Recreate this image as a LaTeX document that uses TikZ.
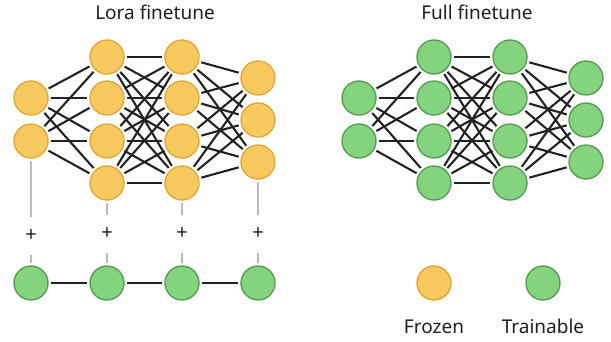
\documentclass[tikz,border=0pt]{standalone}
\usepackage{fontspec}
\setmainfont{Noto Sans}
\begin{document}
\begin{tikzpicture}[x=1pt,y=-1pt,
  neuron/.style={circle,line width=1.4pt,minimum size=34pt,inner sep=0pt,outer sep=3pt},
  frozen/.style={neuron,draw=frozenline,fill=frozenfill},
  train/.style={neuron,draw=trainline,fill=trainfill},
  wire/.style={draw=wirecol,line width=2.1pt},
  grayline/.style={draw=graycol,line width=1.6pt},
  plusnode/.style={inner sep=0pt,minimum height=38pt,font=\bfseries\fontsize{20}{20}\selectfont,text=textcol},
  title/.style={anchor=base,font=\fontsize{19}{19}\selectfont,text=textcol},
  legend/.style={anchor=base,font=\fontsize{19}{19}\selectfont,text=textcol}]
\definecolor{frozenfill}{HTML}{F7C95E}
\definecolor{frozenline}{HTML}{E2A83C}
\definecolor{trainfill}{HTML}{83D37F}
\definecolor{trainline}{HTML}{5A9E56}
\definecolor{wirecol}{HTML}{222222}
\definecolor{graycol}{HTML}{BDBDBD}
\definecolor{textcol}{HTML}{1E1E1E}
\useasboundingbox (0,0) rectangle (611,341);

% titles
\node[title] (t1) at (155,19) {Lora finetune};
\node[title] (t2) at (477,19) {Full finetune};

% Left network (frozen)
\foreach \y [count=\i] in {98,141} \node[frozen] (La\i) at (31,\y) {};
\foreach \y [count=\i] in {57,98,141,183} \node[frozen] (Lb\i) at (107,\y) {};
\foreach \y [count=\i] in {57,98,141,183} \node[frozen] (Lc\i) at (182,\y) {};
\foreach \y [count=\i] in {78,120,162} \node[frozen] (Ld\i) at (258,\y) {};
\foreach \i in {1,2} \foreach \j in {1,...,4} \draw[wire] (La\i) -- (Lb\j);
\foreach \i in {1,...,4} \foreach \j in {1,...,4} \draw[wire] (Lb\i) -- (Lc\j);
\foreach \i in {1,...,4} \foreach \j in {1,...,3} \draw[wire] (Lc\i) -- (Ld\j);

% Right network (trainable)
\foreach \y [count=\i] in {98,141} \node[train] (Ra\i) at (359,\y) {};
\foreach \y [count=\i] in {57,98,141,183} \node[train] (Rb\i) at (434,\y) {};
\foreach \y [count=\i] in {57,98,141,183} \node[train] (Rc\i) at (510,\y) {};
\foreach \y [count=\i] in {78,120,162} \node[train] (Rd\i) at (586,\y) {};
\foreach \i in {1,2} \foreach \j in {1,...,4} \draw[wire] (Ra\i) -- (Rb\j);
\foreach \i in {1,...,4} \foreach \j in {1,...,4} \draw[wire] (Rb\i) -- (Rc\j);
\foreach \i in {1,...,4} \foreach \j in {1,...,3} \draw[wire] (Rc\i) -- (Rd\j);

% LoRA adapters
\node[train] (A1) at (31,283) {};
\node[train] (A2) at (107,283) {};
\node[train] (A3) at (182,283) {};
\node[train] (A4) at (258,283) {};
\node[plusnode] (P1) at (31,236) {+};
\node[plusnode] (P2) at (107,234) {+};
\node[plusnode] (P3) at (182,234) {+};
\node[plusnode] (P4) at (258,234) {+};
\draw[grayline] (La2.south) -- (P1.north);
\draw[grayline] (Lb4.south) -- (P2.north);
\draw[grayline] (Lc4.south) -- (P3.north);
\draw[grayline] (Ld3.south) -- (P4.north);
\draw[grayline] (P1.south) -- (A1.north);
\draw[grayline] (P2.south) -- (A2.north);
\draw[grayline] (P3.south) -- (A3.north);
\draw[grayline] (P4.south) -- (A4.north);
\draw[wire] (A1) -- (A2);
\draw[wire] (A2) -- (A3);
\draw[wire] (A3) -- (A4);

% legend
\node[frozen] (F) at (434,283) {};
\node[train] (T) at (543,283) {};
\node[legend] (Fl) at (434,333) {Frozen};
\node[legend] (Tl) at (543,333) {Trainable};
\end{tikzpicture}
\end{document}
